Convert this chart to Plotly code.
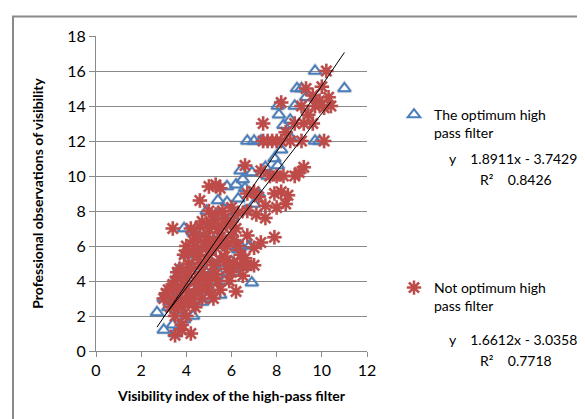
import plotly.graph_objects as go

# ---------------- data ----------------
opt_x = [9.7, 11.0, 8.9, 9.1, 8.05, 8.8, 9.3, 8.1, 8.3, 8.6,
         6.7, 7.0, 7.3, 9.7, 9.9,
         6.4, 8.05, 7.6, 6.9,
         5.8, 6.2, 6.6, 7.2, 5.4, 5.8, 6.3, 4.9, 5.4, 6.0, 6.6,
         3.9, 4.3, 4.6, 5.0, 5.5, 4.2, 4.8, 5.8, 6.4, 6.3, 6.8,
         4.0, 4.5, 5.2, 5.6, 6.0, 4.2, 4.8, 5.4, 6.1, 6.6,
         3.6, 4.0, 4.6, 5.1, 5.7, 6.9, 3.3, 3.8, 4.4, 5.0, 5.5,
         3.0, 3.5, 4.1, 4.7, 3.2, 3.7, 2.7, 3.0, 3.4, 3.9, 4.3, 3.5,
         7.5, 8.6, 8.2, 7.9, 6.5, 7.0, 5.1, 4.4, 3.7, 4.9]
opt_y = [16.0, 15.0, 15.0, 15.0, 14.0, 14.0, 14.5, 13.5, 12.9, 13.2,
         12.0, 12.0, 12.0, 12.0, 12.0,
         10.3, 10.6, 10.0, 10.2,
         9.4, 9.5, 9.3, 9.0, 8.6, 8.5, 8.7, 8.0, 7.8, 7.6, 8.0,
         7.0, 6.8, 6.5, 6.7, 6.2, 6.0, 6.0, 6.0, 6.0, 5.8, 6.0,
         5.5, 5.2, 5.3, 5.0, 5.1, 4.8, 4.6, 4.5, 4.5, 4.8,
         4.3, 4.0, 4.0, 4.0, 4.0, 3.9, 3.6, 3.5, 3.4, 3.5, 3.2,
         3.0, 2.9, 3.0, 2.8, 2.5, 2.3, 2.2, 1.2, 1.5, 1.8, 2.0, 1.0,
         10.5, 12.2, 11.5, 11.0, 9.8, 8.4, 7.2, 5.7, 4.7, 3.0]

not_x = [10.2, 9.3, 10.0, 9.6, 9.9, 10.3, 8.2, 9.1, 9.7, 10.1, 10.4, 7.4, 8.8, 9.2, 9.6, 9.4,
         7.4, 7.6, 7.8, 8.0, 8.2, 8.6, 9.1, 10.1, 8.4,
         6.6, 7.3, 9.2, 7.7, 8.0, 8.3, 8.8, 9.0,
         5.0, 5.3, 5.5, 6.7, 7.0, 7.2, 7.9, 8.2, 8.5,
         4.6, 7.5, 8.0, 8.4, 5.0, 5.3, 5.6, 6.0, 6.3, 6.7, 7.1, 7.5,
         3.4, 4.2, 4.6, 5.0, 5.4, 5.8, 6.2, 4.4, 4.9, 5.5, 6.0, 6.7, 7.9,
         4.0, 4.4, 4.9, 5.3, 5.8, 6.3, 7.0, 3.9, 4.5, 5.0, 5.7, 6.4,
         4.1, 4.6, 5.2, 5.9, 6.4, 6.7, 7.0,
         3.6, 4.1, 4.7, 5.3, 6.0, 6.5, 3.5, 3.9, 4.4, 4.9, 5.4, 5.9, 6.2,
         3.2, 3.6, 4.0, 4.5, 5.0, 5.5, 3.0, 3.4, 3.8, 4.2, 4.7, 5.2,
         3.3, 3.8, 4.4, 3.5, 4.0, 3.8, 3.5, 3.8, 4.2,
         5.2, 5.7, 6.1,
         4.7, 5.1, 5.6, 6.0, 4.3, 4.8, 5.2, 5.6, 6.1, 4.1, 4.5, 4.9, 5.5,
         3.7, 4.2, 4.6, 5.1, 3.4, 3.9, 4.3, 4.8, 3.1, 3.6, 4.1, 5.8, 6.6, 7.3]
not_y = [16.0, 15.0, 15.1, 14.6, 14.3, 14.5, 14.2, 14.0, 14.0, 13.9, 14.0, 13.0, 13.0, 13.0, 13.0, 13.5,
         12.0, 12.0, 12.0, 12.0, 12.0, 12.0, 12.0, 12.0, 12.5,
         10.6, 10.3, 10.5, 10.0, 10.0, 10.0, 10.0, 10.2,
         9.4, 9.5, 9.3, 9.0, 9.1, 8.8, 9.0, 9.1, 8.9,
         8.6, 8.3, 8.2, 8.4, 8.0, 7.8, 8.0, 8.2, 7.9, 8.0, 7.8, 7.6,
         7.0, 7.0, 7.1, 7.0, 7.0, 7.2, 7.0, 6.6, 6.5, 6.5, 6.6, 6.6, 6.5,
         6.0, 6.0, 6.0, 5.9, 6.0, 6.0, 5.9, 5.5, 5.4, 5.5, 5.4, 5.5,
         5.0, 5.0, 4.9, 5.0, 4.9, 4.9, 4.9,
         4.5, 4.4, 4.5, 4.4, 4.5, 4.3, 4.0, 4.0, 4.0, 4.0, 4.0, 4.0, 3.4,
         3.5, 3.5, 3.5, 3.5, 3.4, 3.5, 3.0, 3.0, 3.0, 3.0, 3.0, 3.0,
         2.5, 2.5, 2.5, 2.0, 2.0, 1.5, 0.9, 1.2, 1.0,
         7.5, 7.6, 5.0,
         7.4, 7.3, 7.1, 7.4, 6.3, 6.2, 6.3, 6.2, 6.3, 5.7, 5.7, 5.2, 5.2,
         4.7, 4.7, 4.2, 4.2, 3.8, 3.8, 3.2, 3.7, 3.3, 2.7, 2.7, 4.7, 5.3, 6.2]

opt_slope, opt_intercept, opt_r2 = 1.8911, -3.7429, 0.8426
not_slope, not_intercept, not_r2 = 1.6612, -3.0358, 0.7718

x_ticks = [0, 2, 4, 6, 8, 10, 12]
y_ticks = [0, 2, 4, 6, 8, 10, 12, 14, 16, 18]

name_opt = "The optimum high<br>pass filter"
name_not = "Not optimum high<br>pass filter"

# ---------------- layout helpers ----------------
W, H = 585, 419
L, R, T, B = 88, 359, 28, 343


def px(xp):
    return (xp - L) / (R - L)


def py(yp):
    return (B - yp) / (B - T)


BLUE = "#4a7ebb"
RED = "#be4b48"
FONT = "Lato, 'Open Sans', sans-serif"

fig = go.Figure()

# soft shadows beneath the markers
fig.add_trace(go.Scatter(x=opt_x, y=opt_y, mode="markers", showlegend=False, hoverinfo="skip",
                         marker=dict(symbol="triangle-up-open", size=12, color="rgba(0,0,0,0.10)",
                                     line=dict(width=3.5, color="rgba(0,0,0,0.10)"))))
fig.add_trace(go.Scatter(x=not_x, y=not_y, mode="markers", showlegend=False, hoverinfo="skip",
                         marker=dict(symbol="asterisk-open", size=13, color="rgba(0,0,0,0.08)",
                                     line=dict(width=3.5, color="rgba(0,0,0,0.08)"))))

fig.add_trace(go.Scatter(x=opt_x, y=opt_y, mode="markers", name=name_opt, legend="legend",
                         marker=dict(symbol="triangle-up-open", size=11, color=BLUE,
                                     line=dict(width=2, color=BLUE))))
fig.add_trace(go.Scatter(x=not_x, y=not_y, mode="markers", name=name_not, legend="legend2",
                         marker=dict(symbol="asterisk-open", size=12, color=RED,
                                     line=dict(width=2.5, color=RED))))

# trend lines
ox = [min(opt_x), max(opt_x)]
nx = [min(not_x), max(not_x)]
fig.add_trace(go.Scatter(x=ox, y=[opt_slope * v + opt_intercept for v in ox], mode="lines",
                         showlegend=False, line=dict(color="#000000", width=1)))
fig.add_trace(go.Scatter(x=nx, y=[not_slope * v + not_intercept for v in nx], mode="lines",
                         showlegend=False, line=dict(color="#000000", width=1)))

ann = []
eq_font = dict(family=FONT, size=14, color="#000000")
ann.append(dict(x=px(439), y=py(150), xref="paper", yref="paper", xanchor="left", yanchor="middle",
                text=f"y    {opt_slope:.4f}x - {abs(opt_intercept):.4f}", showarrow=False, font=eq_font))
ann.append(dict(x=px(470), y=py(171), xref="paper", yref="paper", xanchor="left", yanchor="middle",
                text=f"R²    {opt_r2:.4f}", showarrow=False, font=eq_font))
ann.append(dict(x=px(439), y=py(331), xref="paper", yref="paper", xanchor="left", yanchor="middle",
                text=f"y    {not_slope:.4f}x - {abs(not_intercept):.4f}", showarrow=False, font=eq_font))
ann.append(dict(x=px(470), y=py(353), xref="paper", yref="paper", xanchor="left", yanchor="middle",
                text=f"R²    {not_r2:.4f}", showarrow=False, font=eq_font))

leg_font = dict(family=FONT, size=14, color="#000000")
fig.update_layout(
    width=W, height=H,
    margin=dict(l=L, r=W - R, t=T, b=H - B),
    paper_bgcolor="white", plot_bgcolor="white",
    font=dict(family=FONT, color="#000000"),
    annotations=ann,
    legend=dict(x=px(386), y=py(91), xanchor="left", yanchor="top", font=leg_font,
                bgcolor="rgba(0,0,0,0)", valign="top", itemwidth=30),
    legend2=dict(x=px(386), y=py(264), xanchor="left", yanchor="top", font=leg_font,
                 bgcolor="rgba(0,0,0,0)", valign="top", itemwidth=30),
    shapes=[dict(type="rect", xref="paper", yref="paper", x0=px(5), x1=px(600), y0=py(440), y1=py(8.5),
                 line=dict(color="#8a8a8a", width=2), layer="below")],
    xaxis=dict(range=[0, 12], tickvals=x_ticks, showgrid=False, zeroline=False,
               showline=True, linecolor="#8a8a8a", linewidth=1,
               ticks="outside", ticklen=5, tickcolor="#8a8a8a",
               tickfont=dict(family=FONT, size=16),
               title=dict(text="<b>Visibility index of the high-pass filter</b>",
                          font=dict(family=FONT, size=14), standoff=12)),
    yaxis=dict(range=[0, 18], tickvals=y_ticks, showgrid=True, gridcolor="#8a8a8a", gridwidth=1,
               zeroline=False, showline=True, linecolor="#8a8a8a", linewidth=1,
               ticks="outside", ticklen=6, tickcolor="#8a8a8a",
               tickfont=dict(family=FONT, size=16),
               title=dict(text="<b>Professional observations of visibility</b>",
                          font=dict(family=FONT, size=14), standoff=20)),
)

fig.write_html("out.html")
